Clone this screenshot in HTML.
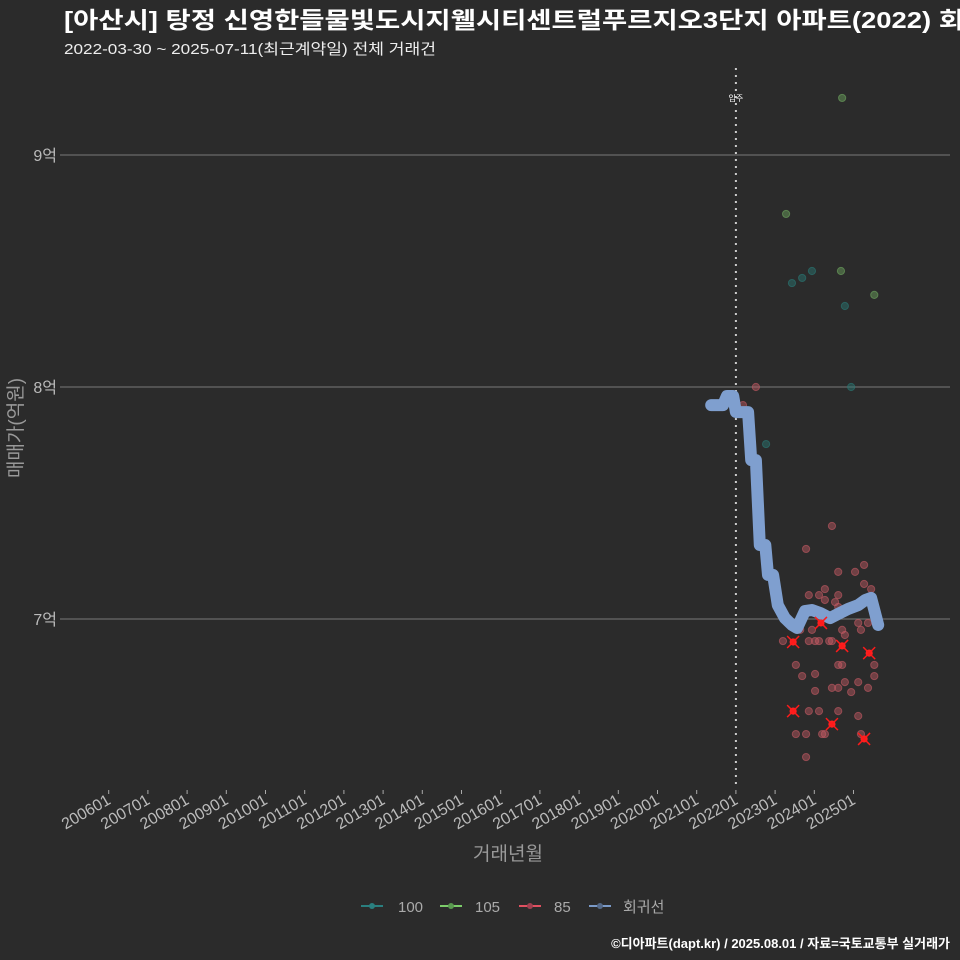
<!DOCTYPE html>
<html><head><meta charset="utf-8"><style>
html,body{margin:0;padding:0;background:#2b2b2b;}
svg{display:block;font-family:"Liberation Sans","Noto Sans CJK KR",sans-serif;}
</style></head><body>
<svg id="chart" width="960" height="960" viewBox="0 0 960 960">
<rect x="0" y="0" width="960" height="960" fill="#2b2b2b"/>
<text x="64" y="28" font-size="23" font-weight="bold" fill="#ffffff" textLength="900" lengthAdjust="spacingAndGlyphs">[아산시] 탕정 신영한들물빛도시지웰시티센트럴푸르지오3단지 아파트(2022) 회</text>
<text x="64" y="54" font-size="15" fill="#eeeeee" textLength="372" lengthAdjust="spacingAndGlyphs">2022-03-30 ~ 2025-07-11(최근계약일) 전체 거래건</text>
<g id="grid"></g>
<g id="xaxis"></g>
<g id="yaxis"></g>
<g id="marks"></g>
<text x="508" y="860" font-size="19" fill="#999999" text-anchor="middle">거래년월</text>
<text transform="translate(22,428) rotate(-90)" font-size="19" fill="#999999" text-anchor="middle">매매가(억원)</text>
<g font-size="15" fill="#aaaaaa">
 <g><line x1="361" y1="906" x2="383" y2="906" stroke="#2a7f7f" stroke-width="2"/><circle cx="372" cy="906" r="3" fill="#2a7f7f"/><text x="398" y="912">100</text></g>
 <g><line x1="440" y1="906" x2="462" y2="906" stroke="#7ccc6a" stroke-width="2"/><circle cx="451" cy="906" r="3" fill="#5a9a50"/><text x="475" y="912">105</text></g>
 <g><line x1="519" y1="906" x2="541" y2="906" stroke="#e05060" stroke-width="2"/><circle cx="530" cy="906" r="3" fill="#a04050"/><text x="554" y="912">85</text></g>
 <g><line x1="589" y1="906" x2="611" y2="906" stroke="#7a9ac8" stroke-width="2"/><circle cx="600" cy="906" r="3" fill="#556a8a"/><text x="623" y="912">회귀선</text></g>
</g>
<text x="950" y="948" font-size="13" font-weight="bold" fill="#ffffff" text-anchor="end">©디아파트(dapt.kr) / 2025.08.01 / 자료=국토교통부 실거래가</text>
</svg>
<script>
const xTickLabels=["200601","200701","200801","200901","201001","201101","201201","201301","201401","201501","201601","201701","201801","201901","202001","202101","202201","202301","202401","202501"];
const yTicks=[7,8,9];
const yTickLabels=["7억","8억","9억"];
const moveIn=2022.0;
const trendX=[2021.37,2021.67,2021.77,2021.93,2022.00,2022.31,2022.39,2022.51,2022.61,2022.75,2022.82,2022.95,2023.07,2023.25,2023.43,2023.56,2023.76,2023.94,2024.15,2024.40,2024.61,2024.86,2025.12,2025.30,2025.45,2025.53,2025.63];
const trendY=[7.922,7.922,7.961,7.961,7.892,7.892,7.685,7.685,7.319,7.319,7.190,7.190,7.060,7.004,6.974,6.961,7.034,7.039,7.026,7.004,7.022,7.043,7.060,7.082,7.091,7.039,6.974];
const s100X=[2023.43,2023.69,2023.94,2024.78,2024.94,2022.77];
const s100Y=[8.448,8.470,8.500,8.349,8.000,7.754];
const s105X=[2024.71,2023.28,2024.68,2025.53];
const s105Y=[9.246,8.746,8.500,8.397];
const s85X=[2022.51,2022.18,2024.45,2023.79,2024.61,2025.04,2025.27,2025.27,2025.45,2023.86,2024.12,2024.27,2024.61,2024.27,2024.53,2024.78,2024.61,2023.28,2023.56,2023.64,2023.94,2024.71,2024.78,2025.19,2025.37,2025.12,2023.20,2023.86,2024.02,2024.12,2024.38,2024.45,2023.53,2024.61,2024.71,2025.53,2023.69,2024.02,2025.53,2024.02,2024.45,2024.61,2024.78,2025.12,2024.94,2025.37,2023.86,2024.12,2024.61,2025.12,2023.53,2023.79,2024.20,2024.27,2025.19,2023.79];
const s85Y=[8.000,7.922,7.401,7.302,7.203,7.203,7.233,7.151,7.129,7.103,7.103,7.129,7.103,7.082,7.073,7.043,7.052,7.004,6.953,6.953,6.953,6.953,6.931,6.953,6.983,6.983,6.905,6.905,6.905,6.905,6.905,6.905,6.802,6.802,6.802,6.802,6.754,6.763,6.754,6.690,6.703,6.703,6.728,6.728,6.685,6.703,6.603,6.603,6.603,6.582,6.504,6.504,6.504,6.504,6.504,6.405];
const crossX=[2023.46,2024.17,2024.71,2025.40,2023.46,2024.45,2025.27];
const crossY=[6.901,6.983,6.884,6.853,6.603,6.547,6.483];

const NS="http://www.w3.org/2000/svg";
const X0=108.7,PX_YR=39.2,L=60,R=950,T=68,B=787;
const sx=v=>X0+(v-2006)*PX_YR;
const sy=v=>619-(v-7)*232;
function mk(tag,attrs,parent){const e=document.createElementNS(NS,tag);for(const k in attrs)e.setAttribute(k,attrs[k]);parent.appendChild(e);return e;}
const grid=document.getElementById('grid'),xa=document.getElementById('xaxis'),ya=document.getElementById('yaxis'),marks=document.getElementById('marks');
yTicks.forEach((v,i)=>{
 const g=mk('line',{x1:L,x2:R,y1:sy(v),y2:sy(v),stroke:'#6a6a6a','stroke-width':1.2},grid);
 
 
 const t=mk('text',{x:57,y:sy(v)+6,'font-size':16,fill:'#bbbbbb','text-anchor':'end'},ya);
 
 
 t.textContent=yTickLabels[i];
});
xTickLabels.forEach((lab,i)=>{
 const yr=parseInt(lab.slice(0,4))+(parseInt(lab.slice(4))-1)/12;
 const x=sx(yr);
 const tk=mk('line',{x1:x,x2:x,y1:790,y2:794,stroke:'#aaaaaa','stroke-width':1},xa);
 
 
 const t=mk('text',{transform:`translate(${x+3},803) rotate(-30)`,'font-size':16,fill:'#bbbbbb','text-anchor':'end'},xa);
 
 
 t.textContent=lab;
});
const vl=mk('line',{x1:sx(moveIn),x2:sx(moveIn),y1:T,y2:B,stroke:'#cccccc','stroke-width':2,'stroke-dasharray':'2,5'},marks);


const vt=mk('text',{x:sx(moveIn),y:101,'font-size':8,fill:'#ffffff','text-anchor':'middle'},marks);


vt.textContent='입주';
function pts(xs,ys,fill,name){xs.forEach((v,i)=>{const c=mk('circle',{cx:sx(v),cy:sy(ys[i]),r:3.6,fill:fill,'fill-opacity':0.45,stroke:fill,'stroke-opacity':0.6},marks);
 
 });}
pts(s85X,s85Y,'#c45a64','point-85');
const d=trendX.map((v,i)=>(i?'L':'M')+sx(v).toFixed(1)+','+sy(trendY[i]).toFixed(1)).join(' ');
const p=mk('path',{d:d,fill:'none',stroke:'#7f9fcf','stroke-width':12,'stroke-linecap':'round','stroke-linejoin':'round'},marks);


pts(s100X,s100Y,'#2a7a76','point-100');
pts(s105X,s105Y,'#6fa860','point-105');
crossX.forEach((v,i)=>{const x=sx(v),y=sy(crossY[i]);
 const g=mk('g',{},marks);
 
 
 mk('circle',{cx:x,cy:y,r:3.6,fill:'#ff2020'},g);
 mk('path',{d:`M${x-6},${y-6}L${x+6},${y+6}M${x-6},${y+6}L${x+6},${y-6}`,stroke:'#ff1a1a','stroke-width':1.5},g);
});
</script>
</body></html>
